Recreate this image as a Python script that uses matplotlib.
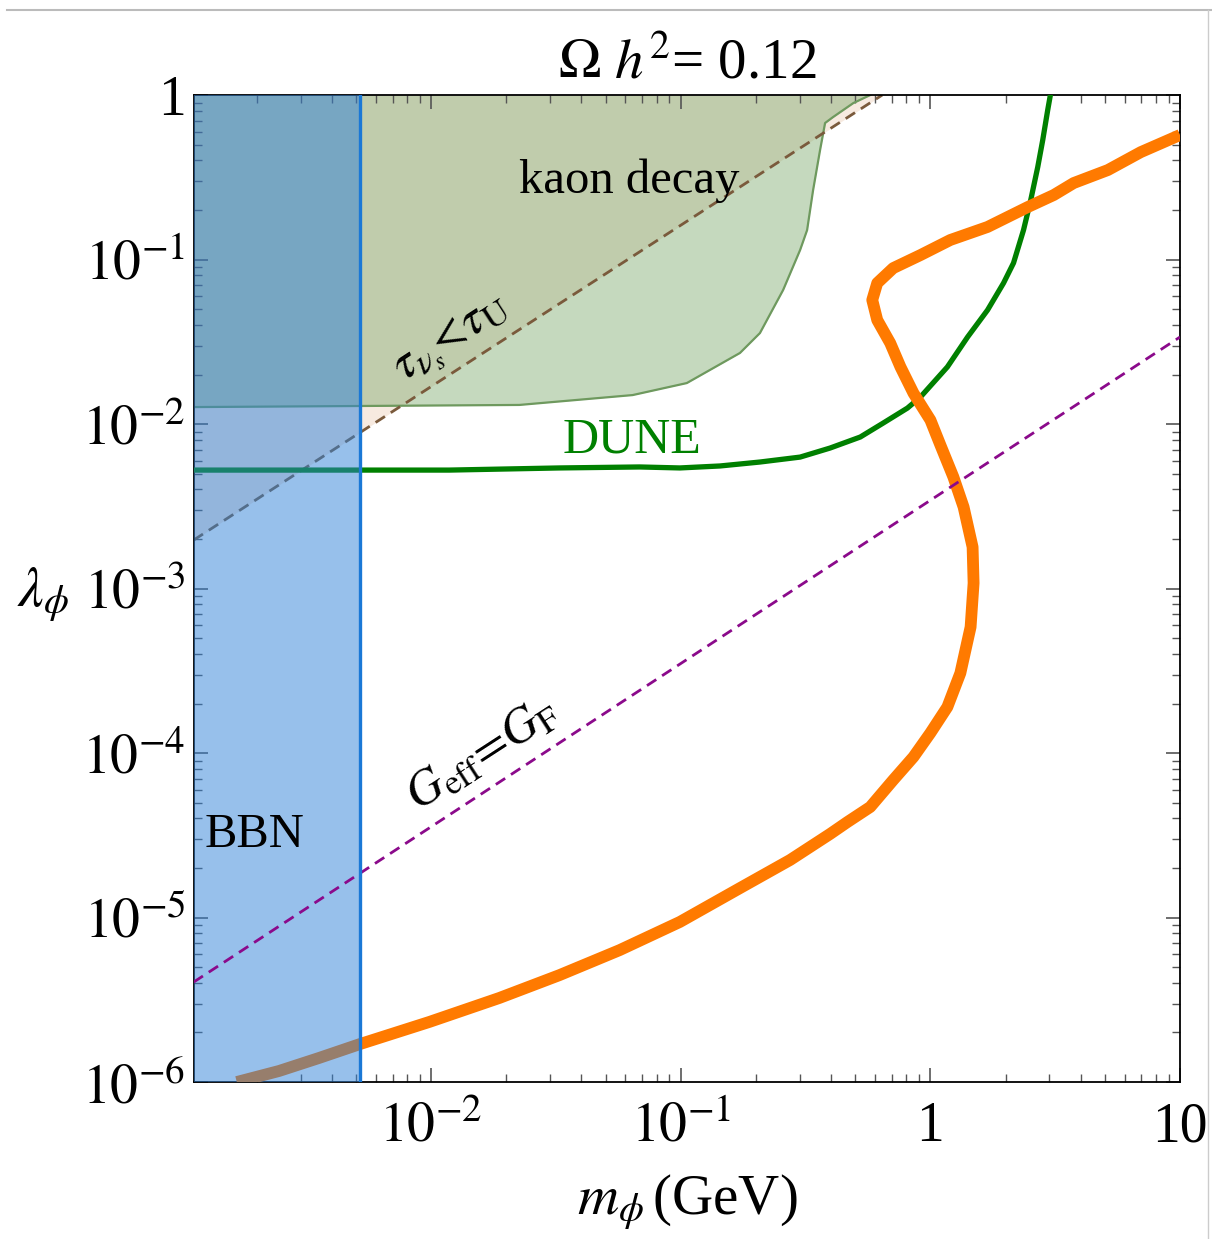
import numpy as np
import matplotlib
matplotlib.use("Agg")
import matplotlib.pyplot as plt
from matplotlib.ticker import FixedLocator, LogLocator, NullFormatter
from matplotlib.lines import Line2D

plt.rcParams['font.family'] = ['Liberation Serif', 'DejaVu Serif']
plt.rcParams['mathtext.fontset'] = 'stix'

# Ejes
x_min, x_max = 1.12e-3, 10.0
y_min, y_max = 1e-6, 1.0
m_bbn = 5.2e-3

# Región kaon decay (log10 m, log10 lambda) - borde inferior
kaon_lm = [-2.952, -1.647, -1.193, -0.976, -0.763, -0.683, -0.590, -0.522,
           -0.494, -0.470, -0.442, -0.422, -0.390, -0.309, -0.241]
kaon_ll = [-1.897, -1.884, -1.824, -1.751, -1.568, -1.447, -1.185, -0.942,
           -0.821, -0.578, -0.334, -0.170, -0.134, -0.049, 0.0]

# Línea tau_nus < tau_U
tau_m = [1.117e-3, 0.641]
tau_lam = [1.97e-3, 1.0]

# Línea G_eff = G_F
geff_m = [1.117e-3, 10.0]
geff_lam = [4.05e-6, 0.0338]

# DUNE
dune_lm = [-2.952, -2.289, -1.928, -1.486, -1.165, -1.004, -0.843, -0.683,
           -0.522, -0.402, -0.281, -0.189, -0.092, -0.040, 0.068, 0.149,
           0.229, 0.293, 0.333, 0.373, 0.402, 0.430, 0.450, 0.470, 0.482]
dune_ll = [-2.280, -2.280, -2.280, -2.267, -2.261, -2.267, -2.255, -2.231,
           -2.201, -2.146, -2.079, -1.994, -1.903, -1.836, -1.653, -1.471,
           -1.307, -1.143, -1.021, -0.821, -0.638, -0.438, -0.274, -0.091, 0.012]

# Curva Omega h^2 = 0.12
relic_lm = [-2.779, -2.610, -2.450, -2.285, -2.008, -1.727, -1.486, -1.245,
            -1.004, -0.763, -0.562, -0.402, -0.333, -0.241, -0.149, -0.068,
            0.0, 0.068, 0.120, 0.161, 0.173, 0.169, 0.133, 0.092, 0.040,
            0.0, -0.068, -0.120, -0.161, -0.213, -0.233, -0.213, -0.149,
            -0.040, 0.080, 0.229, 0.390, 0.494, 0.574, 0.711, 0.843, 1.0]
relic_ll = [-6.0, -5.933, -5.854, -5.769, -5.635, -5.489, -5.350, -5.198,
            -5.027, -4.821, -4.650, -4.492, -4.420, -4.328, -4.164, -4.024,
            -3.878, -3.720, -3.514, -3.234, -2.967, -2.748, -2.505, -2.322,
            -2.128, -1.976, -1.812, -1.653, -1.508, -1.368, -1.246, -1.143,
            -1.052, -0.973, -0.881, -0.802, -0.681, -0.608, -0.535, -0.456,
            -0.347, -0.243]

kaon_m = 10 ** np.array(kaon_lm)
kaon_lam = 10 ** np.array(kaon_ll)
dune_m = 10 ** np.array(dune_lm)
dune_lam = 10 ** np.array(dune_ll)
relic_m = 10 ** np.array(relic_lm)
relic_lam = 10 ** np.array(relic_ll)

fig = plt.figure(figsize=(12.12, 12.39), dpi=100)
ax = fig.add_axes([0.160, 0.1267, 0.8136, 0.7966])
ax.set_xscale('log')
ax.set_yscale('log')
ax.set_xlim(x_min, x_max)
ax.set_ylim(y_min, y_max)

# tau_nus < tau_U (zona melocotón)
ax.fill_between(tau_m, tau_lam, y_max, color=(0.85, 0.6, 0.4), alpha=0.2,
                lw=0, zorder=1)
# kaon decay
ax.fill_between(kaon_m, kaon_lam, y_max, color=(0.43, 0.63, 0.37), alpha=0.4,
                lw=0, zorder=1.5)
ax.plot(kaon_m, kaon_lam, color=(0.43, 0.6, 0.37), lw=1.6, zorder=1.6)

ax.plot(tau_m, tau_lam, color='#7a5a3c', lw=2, dashes=(4, 2.5), zorder=2)
ax.plot(dune_m, dune_lam, color='#008000', lw=3.8, zorder=3)
ax.plot(relic_m, relic_lam, color='#ff7a00', lw=8.5, zorder=3,
        solid_capstyle='butt', solid_joinstyle='round')

# BBN
ax.axvspan(x_min, m_bbn, color=(0.19, 0.51, 0.85), alpha=0.5, lw=0, zorder=4)
ax.plot(geff_m, geff_lam, color='#8b0a8b', lw=2, dashes=(4, 2.5), zorder=5)
ax.axvline(m_bbn, color='#1a78d6', lw=2.4, zorder=6)

# Textos
ax.text(0.0624, 0.30, 'kaon decay', fontsize=35, ha='center', va='center', zorder=7)
ax.text(0.0636, 8.0e-3, 'DUNE', fontsize=36, color='#008000', ha='center',
        va='center', zorder=7)
ax.text(1.95e-3, 3.17e-5, 'BBN', fontsize=35, ha='center', va='center', zorder=7)
ax.text(1.2e-2, 0.0333, r'$\tau_{\nu_s}\!\!<\!\tau_{\mathrm{U}}$', fontsize=36,
        rotation=33, ha='center', va='center', rotation_mode='anchor', zorder=7)
ax.text(0.016, 9.9e-5, r'$G_{\mathrm{eff}}\!=\!G_{\mathrm{F}}$', fontsize=36,
        rotation=33, ha='center', va='center', rotation_mode='anchor', zorder=7)

# Ticks
ax.xaxis.set_major_locator(FixedLocator([1e-2, 1e-1, 1, 10]))
ax.set_xticklabels([r'$10^{-2}$', r'$10^{-1}$', '1', '10'])
ax.yaxis.set_major_locator(FixedLocator([1e-6, 1e-5, 1e-4, 1e-3, 1e-2, 1e-1, 1]))
ax.set_yticklabels([r'$10^{-6}$', r'$10^{-5}$', r'$10^{-4}$', r'$10^{-3}$',
                    r'$10^{-2}$', r'$10^{-1}$', '1'])
ax.xaxis.set_minor_locator(LogLocator(base=10, subs=np.arange(2, 10), numticks=20))
ax.yaxis.set_minor_locator(LogLocator(base=10, subs=np.arange(2, 10), numticks=20))
ax.xaxis.set_minor_formatter(NullFormatter())
ax.yaxis.set_minor_formatter(NullFormatter())
ax.tick_params(which='both', direction='in', top=True, right=True,
               color='#555555', labelsize=40)
ax.tick_params(which='major', length=10, width=1.2)
ax.tick_params(which='minor', length=6, width=1.0)
ax.tick_params(axis='x', pad=14)
ax.tick_params(axis='y', pad=6)
for s in ax.spines.values():
    s.set_linewidth(1.3)

ax.set_title(r'$\Omega\ h^2$= 0.12', fontsize=41, pad=12)
ax.set_xlabel(r'$m_\phi\,$(GeV)', fontsize=41, labelpad=14)
fig.text(0.036, 0.520, r'$\lambda_\phi$', fontsize=41, ha='center', va='center')

# borde gris de la captura
fig.add_artist(Line2D([0.006, 1.0], [0.992, 0.992], color='#bbbbbb', lw=1.5))
fig.add_artist(Line2D([0.997, 0.997], [0.0, 0.992], color='#cccccc', lw=1.0))

fig.savefig('out.png', dpi=100)
